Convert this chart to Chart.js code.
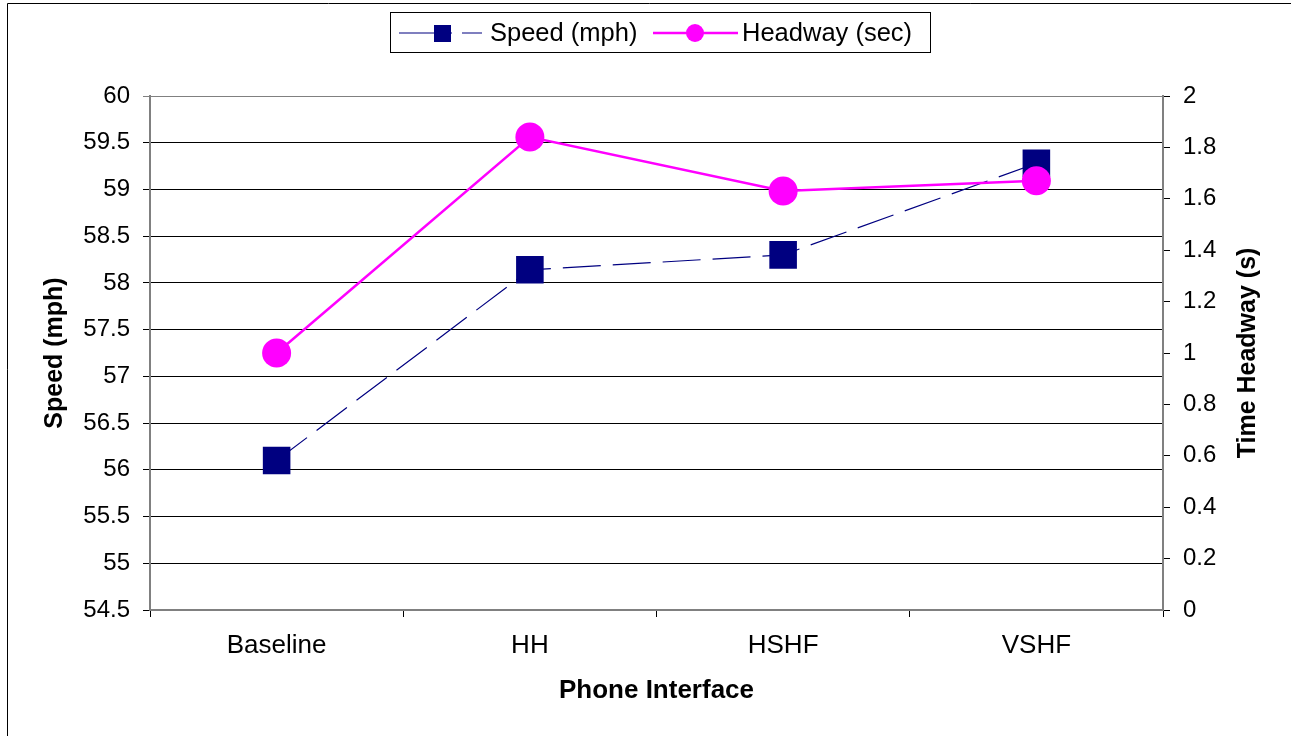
<!DOCTYPE html>
<html>
<head>
<meta charset="utf-8">
<script src="https://cdn.jsdelivr.net/npm/chart.js@4/dist/chart.umd.min.js"></script>
<style>
  html, body { margin: 0; padding: 0; background: #fff; }
  #wrap { position: relative; width: 1291px; height: 736px; overflow: hidden; }
</style>
</head>
<body>
<div id="wrap"><canvas id="chart" width="1291" height="736"></canvas></div>
<script>
// data
const categories = ['Baseline', 'HH', 'HSHF', 'VSHF'];
const speedMph = [56.1, 58.14, 58.3, 59.28];
const headwaySec = [1.0, 1.84, 1.63, 1.67];

const speedTicks = { min: 54.5, max: 60, step: 0.5 };
const headwayTicks = { min: 0, max: 2, step: 0.2 };

const FONT = "'Liberation Sans', Arial, sans-serif";
const NAVY = '#000080';
const MAGENTA = '#FF00FF';
const AXIS_GREY = '#808080';

function fmt(v) {
    return String(Math.round(v * 10) / 10);
}

// frame, boxed legend and the right axis title (reads bottom to top, Excel style)
const decorPlugin = {
    id: 'decor',
    afterDraw(chart) {
        const c = chart.ctx;
        const area = chart.chartArea;
        c.save();
        // outer frame (runs off the right and bottom edges)
        c.strokeStyle = '#000';
        c.lineWidth = 1;
        c.beginPath();
        c.moveTo(7.5, 736);
        c.lineTo(7.5, 3.5);
        c.lineTo(1291, 3.5);
        c.stroke();

        // right axis title
        c.save();
        c.translate(1248, (area.top + area.bottom) / 2);
        c.rotate(-Math.PI / 2);
        c.font = 'bold 25px ' + FONT;
        c.textAlign = 'center';
        c.textBaseline = 'middle';
        c.fillStyle = '#000';
        c.fillText('Time Headway (s)', 0, 0);
        c.restore();

        // legend box
        c.strokeStyle = '#000';
        c.lineWidth = 1;
        c.strokeRect(390.5, 12.5, 540, 40);

        const ly = 33;
        c.font = '25.5px ' + FONT;
        c.textBaseline = 'middle';

        // speed entry
        c.strokeStyle = NAVY;
        c.lineWidth = 1.2;
        c.beginPath();
        c.moveTo(399, ly); c.lineTo(452, ly);
        c.moveTo(462, ly); c.lineTo(482, ly);
        c.stroke();
        c.fillStyle = NAVY;
        c.fillRect(434, ly - 8, 17, 17);
        c.fillStyle = '#000';
        c.fillText('Speed (mph)', 490, ly + 1);

        // headway entry
        c.strokeStyle = MAGENTA;
        c.lineWidth = 2.5;
        c.beginPath();
        c.moveTo(653, ly); c.lineTo(738, ly);
        c.stroke();
        c.fillStyle = MAGENTA;
        c.beginPath();
        c.arc(695, ly, 9, 0, Math.PI * 2);
        c.fill();
        c.fillStyle = '#000';
        c.fillText('Headway (sec)', 742, ly + 1);
        c.restore();
    }
};

new Chart(document.getElementById('chart').getContext('2d'), {
    type: 'line',
    data: {
        labels: categories,
        datasets: [
            {
                label: 'Speed (mph)',
                data: speedMph,
                yAxisID: 'y',
                order: 1,
                borderColor: NAVY,
                borderWidth: 1.2,
                borderDash: [38, 12],
                backgroundColor: NAVY,
                pointStyle: 'rect',
                pointRadius: 19.5,
                pointBorderWidth: 0,
                pointHoverRadius: 19.5,
                tension: 0
            },
            {
                label: 'Headway (sec)',
                data: headwaySec,
                yAxisID: 'y1',
                order: 0,
                borderColor: MAGENTA,
                borderWidth: 2.5,
                backgroundColor: MAGENTA,
                pointStyle: 'circle',
                pointRadius: 14.5,
                pointBorderWidth: 0,
                pointHoverRadius: 14.5,
                tension: 0
            }
        ]
    },
    options: {
        responsive: false,
        animation: false,
        layout: { padding: { top: 96, left: 0, right: 0, bottom: 0 } },
        plugins: {
            legend: { display: false },
            tooltip: { enabled: false }
        },
        scales: {
            x: {
                offset: true,
                grid: {
                    offset: true,
                    drawOnChartArea: false,
                    drawTicks: true,
                    tickLength: 7,
                    color: '#000'
                },
                border: { color: AXIS_GREY, width: 2 },
                ticks: { color: '#000', font: { family: FONT, size: 26 }, padding: 13, maxRotation: 0 },
                title: {
                    display: true,
                    text: 'Phone Interface',
                    color: '#000',
                    font: { family: FONT, size: 26, weight: 'bold' },
                    padding: { top: 0, bottom: 30 }
                },
                afterFit(scale) { scale.height = 126; }
            },
            y: {
                position: 'left',
                min: speedTicks.min,
                max: speedTicks.max,
                grid: {
                    color: (ctx) => ctx.tick && ctx.tick.value === speedTicks.max ? AXIS_GREY : '#000',
                    lineWidth: 1,
                    tickLength: 7
                },
                border: { color: AXIS_GREY, width: 2 },
                ticks: {
                    stepSize: speedTicks.step,
                    color: '#000',
                    font: { family: FONT, size: 24 },
                    padding: 13,
                    callback: (v) => fmt(v)
                },
                title: {
                    display: true,
                    text: 'Speed (mph)',
                    color: '#000',
                    font: { family: FONT, size: 25, weight: 'bold' },
                    padding: { top: 40, bottom: 0 }
                },
                afterFit(scale) { scale.width = 150; }
            },
            y1: {
                position: 'right',
                min: headwayTicks.min,
                max: headwayTicks.max,
                grid: {
                    drawOnChartArea: false,
                    color: '#000',
                    tickLength: 7
                },
                border: { color: AXIS_GREY, width: 2 },
                ticks: {
                    stepSize: headwayTicks.step,
                    color: '#000',
                    font: { family: FONT, size: 24 },
                    padding: 13,
                    callback: (v) => fmt(v)
                },
                title: { display: false },
                afterFit(scale) { scale.width = 128; }
            }
        }
    },
    plugins: [decorPlugin]
});
</script>
</body>
</html>
